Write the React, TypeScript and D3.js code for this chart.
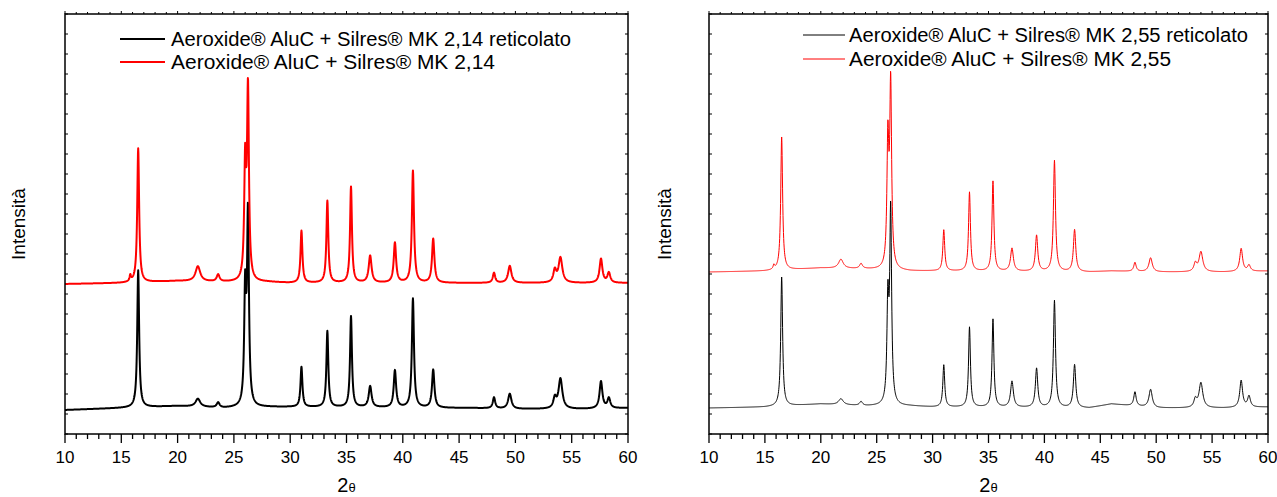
import React from "react";
import * as d3 from "d3";

// ---- data ----
const xTicks = [10, 15, 20, 25, 30, 35, 40, 45, 50, 55, 60];
const peakPos = [15.8, 16.5, 21.8, 23.6, 26.0, 26.25, 31.0, 33.3, 35.4, 37.1, 39.3, 40.9, 42.7, 48.1, 49.5, 53.5, 54.0, 57.6, 58.3];
const peakWidth = [0.15, 0.2, 0.5, 0.3, 0.2, 0.2, 0.2, 0.2, 0.2, 0.3, 0.25, 0.22, 0.25, 0.25, 0.35, 0.3, 0.4, 0.3, 0.3];

const bgX = [10, 15, 20, 24, 28, 30, 44, 46, 50, 56, 60];
const bgLeftBlack = [240, 260, 280, 260, 270, 270, 260, 260, 250, 250, 260];
const bgLeftRed = [1500, 1510, 1530, 1520, 1520, 1510, 1510, 1510, 1510, 1510, 1510];
const bgRightRed = [1620, 1630, 1660, 1650, 1630, 1630, 1620, 1630, 1620, 1620, 1630];
const bgRightBlack = [260, 270, 300, 280, 280, 270, 260, 300, 260, 260, 270];

const hLeftBlack = [0, 1370, 80, 50, 1120, 1900, 400, 760, 910, 210, 370, 1090, 380, 110, 150, 100, 300, 270, 100];
const hLeftRed = [60, 1340, 150, 70, 1130, 1890, 520, 820, 960, 270, 400, 1120, 440, 100, 170, 120, 250, 240, 100];
const hRightRed = [40, 1330, 90, 50, 1250, 1820, 410, 790, 900, 230, 360, 1110, 420, 90, 140, 80, 200, 230, 60];
const hRightBlack = [0, 1290, 60, 40, 1000, 1920, 420, 800, 880, 260, 390, 1070, 430, 140, 180, 80, 250, 270, 110];

const legendLeft = ["Aeroxide® AluC + Silres® MK 2,14 reticolato", "Aeroxide® AluC + Silres® MK 2,14"];
const legendRight = ["Aeroxide® AluC + Silres® MK 2,55 reticolato", "Aeroxide® AluC + Silres® MK 2,55"];

const FONT = "'Liberation Sans', Arial, Helvetica, sans-serif";

function profile(bg: number[], heights: number[]): [number, number][] {
  const bgScale = d3.scaleLinear().domain(bgX).range(bg);
  const pts: [number, number][] = [];
  for (let i = 0; i <= 2500; i++) {
    const x = 10 + i * 0.02;
    let y = bgScale(x);
    for (let k = 0; k < peakPos.length; k++) {
      const t = (2 * (x - peakPos[k])) / peakWidth[k];
      y += heights[k] / (1 + t * t);
    }
    pts.push([x, y]);
  }
  return pts;
}

type Series = { data: [number, number][]; color: string; width: number };

function Panel(props: {
  x0: number; x1: number; series: Series[]; legend: string[];
  legLine: [number, number]; legY: [number, number]; legTextX: number; legW: [number, number];
  legStroke: number; legColors: string[]; yLabelX: number;
}) {
  const top = 14, bottom = 434;
  const x = d3.scaleLinear().domain([10, 60]).range([props.x0, props.x1]);
  const y = d3.scaleLinear().domain([0, 4200]).range([bottom, top]);
  const line = d3.line<[number, number]>().x(d => x(d[0])).y(d => y(d[1]));
  const minor = d3.range(10, 61, 1);
  const yT = d3.range(0, 4201, 200);
  const cx = (props.x0 + props.x1) / 2;
  return (
    <g>
      <defs>
        <clipPath id={"clip" + props.x0}>
          <rect x={props.x0} y={top} width={props.x1 - props.x0} height={bottom - top} />
        </clipPath>
      </defs>
      <g clipPath={`url(#clip${props.x0})`}>
        {props.series.map((s, i) => (
          <path key={i} d={line(s.data) || ""} fill="none" stroke={s.color} strokeWidth={s.width} strokeLinejoin="round" />
        ))}
      </g>
      <rect x={props.x0} y={top} width={props.x1 - props.x0} height={bottom - top} fill="none" stroke="#000" strokeWidth={1.5} />
      {minor.map(v => {
        const major = v % 5 === 0;
        return (
          <g key={v}>
            <line x1={x(v)} x2={x(v)} y1={bottom} y2={bottom + (major ? 9 : 5)} stroke="#000" strokeWidth={1.3} />
            <line x1={x(v)} x2={x(v)} y1={top} y2={top - (major ? 3 : 2)} stroke="#000" strokeWidth={1} />
          </g>
        );
      })}
      {yT.map(v => (
        <g key={v}>
          <line x1={props.x0} x2={props.x0 + 3} y1={y(v)} y2={y(v)} stroke="#000" strokeWidth={1} />
          <line x1={props.x1} x2={props.x1 - 3} y1={y(v)} y2={y(v)} stroke="#000" strokeWidth={1} />
        </g>
      ))}
      {xTicks.map(v => (
        <text key={v} x={x(v)} y={463} fontSize={17} textAnchor="middle" fontFamily={FONT}>{v}</text>
      ))}
      <text x={cx} y={492} textAnchor="middle" fontFamily={FONT}>
        <tspan fontSize={20}>2</tspan><tspan fontSize={13}>θ</tspan>
      </text>
      <text transform={`translate(${props.yLabelX},224) rotate(-90)`} textAnchor="middle" fontSize={19} fontFamily={FONT}>Intensità</text>
      {props.legend.map((t, i) => (
        <g key={i}>
          <line x1={props.legLine[0]} x2={props.legLine[1]} y1={props.legY[i]} y2={props.legY[i]} stroke={props.legColors[i]} strokeWidth={props.legStroke} />
          <text x={props.legTextX} y={props.legY[i] + 7} fontSize={20} fontFamily={FONT} textLength={props.legW[i]} lengthAdjust="spacingAndGlyphs">{t}</text>
        </g>
      ))}
    </g>
  );
}

export default function App() {
  const lb = profile(bgLeftBlack, hLeftBlack);
  const lr = profile(bgLeftRed, hLeftRed);
  const rb = profile(bgRightBlack, hRightBlack);
  const rr = profile(bgRightRed, hRightRed);
  return (
    <svg width={1277} height={497} style={{ position: "absolute", left: 0, top: 0, background: "#fff" }}>
      <Panel x0={65} x1={628}
        series={[{ data: lb, color: "#000", width: 2 }, { data: lr, color: "#ff0000", width: 2 }]}
        legend={legendLeft} legLine={[120, 165]} legY={[39, 62]} legTextX={171} legW={[400, 324]}
        legStroke={2} legColors={["#000", "#ff0000"]} yLabelX={25} />
      <Panel x0={709} x1={1268}
        series={[{ data: rb, color: "#000", width: 1 }, { data: rr, color: "#ff0000", width: 1 }]}
        legend={legendRight} legLine={[803, 845]} legY={[35, 59]} legTextX={849} legW={[399, 322]}
        legStroke={1} legColors={["#000", "#ff0000"]} yLabelX={671} />
    </svg>
  );
}
